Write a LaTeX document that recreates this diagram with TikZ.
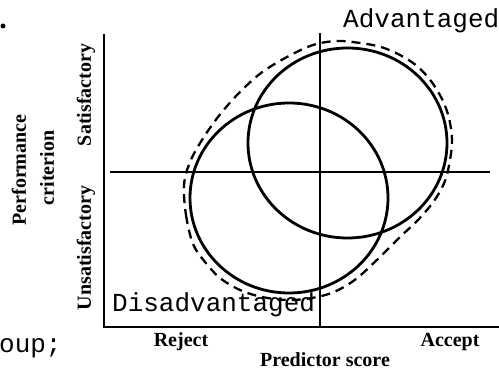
\documentclass[tikz,border=0pt]{standalone}
\usepackage{fontspec}
\setmainfont{Liberation Serif}
\newfontfamily\monofam{Liberation Mono}
\begin{document}
\begin{tikzpicture}[x=1pt,y=-1pt,
  axis/.style={line width=1.9pt},
  midaxis/.style={line width=1.3pt},
  group/.style={line width=2.8pt},
  envelope/.style={line width=2.3pt, dash pattern=on 9pt off 6pt},
  grouplabel/.style={font=\monofam\fontsize{26}{26}\selectfont, inner sep=0pt},
  axislabel/.style={font=\bfseries\fontsize{20}{20}\selectfont, inner sep=0pt}]
\useasboundingbox (0,0) rectangle (499,371);
\fill[white] (0,0) rectangle (499,371);

% axes
\coordinate (yTop) at (104,34);
\coordinate (origin) at (104,327);
\coordinate (xEnd) at (499,327);
\draw[axis] (yTop) -- (origin) -- (xEnd);
\coordinate (cTop) at (320,33);
\coordinate (cBot) at (320,327);
\draw[midaxis] (cTop) -- (cBot);
\coordinate (hL) at (110,172);
\coordinate (hR) at (490,172);
\draw[axis] (hL) -- (hR);

% groups
\draw[group] (347.5,143) ellipse [x radius=99.5, y radius=95];
\draw[group] (289,198) ellipse [x radius=99, y radius=95];

% envelope
\draw[envelope] plot[smooth cycle, tension=0.55] coordinates {
 (184,185) (186,215) (193,244) (205,262) (220,278) (240,290) (262,297)
 (288,300) (312,298) (334,292) (356,279) (380,257) (400,237) (418,220)
 (434,201) (445,181) (450,160) (452,140) (449,118) (442,99) (431,81)
 (417,66) (400,55) (381,47) (360,43) (337,41) (313,45) (287,57)
 (261,73) (238,94) (218,117) (202,140) (190,162)};

% labels
\node[grouplabel, anchor=base west] (adv) at (343,28) {Advantaged};
\node[grouplabel, anchor=base west] (dis) at (112,312) {Disadvantaged};
\node[grouplabel, anchor=base west] (oup) at (-1,353) {oup;};
\fill (3,26) circle (2.5);

\node[axislabel, rotate=90] (sat) at (86,95) {Satisfactory};
\node[axislabel, rotate=90] (unsat) at (86,248) {Unsatisfactory};
\node[axislabel, rotate=90] (perf) at (19,170) {Performance};
\node[axislabel, rotate=90] (crit) at (47,168) {criterion};
\node[axislabel, anchor=base] (rej) at (181,347) {Reject};
\node[axislabel, anchor=base] (acc) at (450,347) {Accept};
\node[axislabel, anchor=base] (pred) at (325,367) {Predictor score};
\end{tikzpicture}
\end{document}
